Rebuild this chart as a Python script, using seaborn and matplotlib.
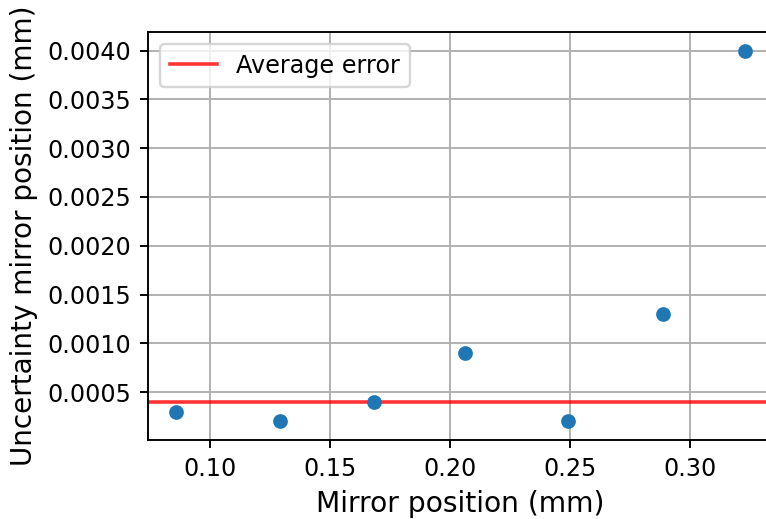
import matplotlib
matplotlib.use("Agg")
import matplotlib.pyplot as plt
from matplotlib.ticker import MultipleLocator, FormatStrFormatter
import seaborn as sns
import pandas as pd

mirror_position = [0.0861, 0.1292, 0.1685, 0.2063, 0.2492, 0.2889, 0.3229]
uncertainty = [0.0003, 0.0002, 0.0004, 0.0009, 0.0002, 0.0013, 0.0040]
average_error = 0.0004

df = pd.DataFrame({"x": mirror_position, "y": uncertainty})

DPI = 172
fig = plt.figure(figsize=(766 / DPI, 519 / DPI), dpi=DPI)
ax = fig.add_axes([148 / 766, 79 / 519, 625 / 766, 408 / 519])

sns.scatterplot(data=df, x="x", y="y", ax=ax, color="#1f77b4", s=38,
                linewidth=0, zorder=3)
ax.axhline(average_error, color="red", alpha=0.8, lw=1.5, label="Average error", zorder=2)

ax.yaxis.set_major_locator(MultipleLocator(0.0005))
ax.yaxis.set_major_formatter(FormatStrFormatter("%.4f"))
ax.grid(True)
ax.set_axisbelow(True)
ax.set_xlabel("Mirror position (mm)", fontsize=11.8)
ax.set_ylabel("Uncertainty mirror position (mm)", fontsize=11.7)
ax.tick_params(labelsize=10)
ax.legend(loc="upper left", fontsize=10)

fig.savefig("out.png", dpi=DPI)
